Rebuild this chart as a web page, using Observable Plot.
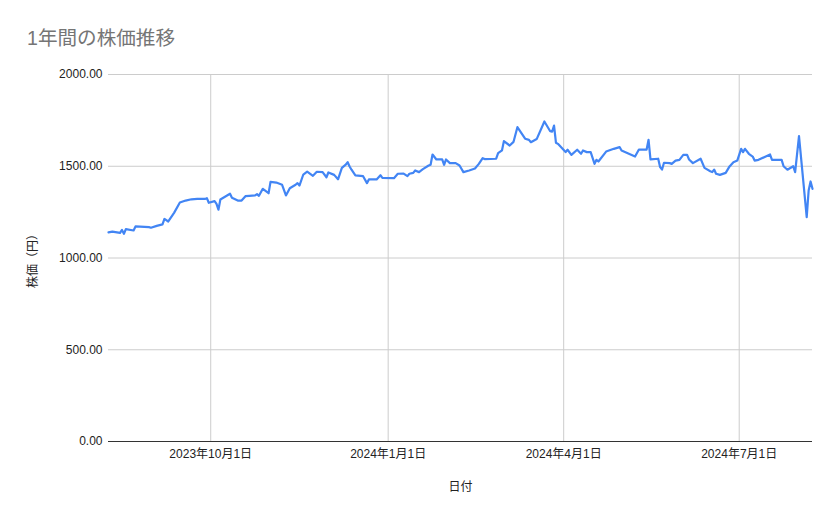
<!DOCTYPE html>
<html><head><meta charset="utf-8">
<script src="https://cdn.jsdelivr.net/npm/d3@7"></script>
<script src="https://cdn.jsdelivr.net/npm/@observablehq/plot@0.6"></script>
<style>
body{margin:0;background:#fff;}
#wrap{position:relative;width:839px;height:519px;}
#title{position:absolute;left:27px;top:28px;font-size:19.6px;line-height:20px;font-family:"Liberation Sans",Arial,"Noto Sans CJK JP",sans-serif;color:#757575;}
</style></head><body>
<div id="wrap"><div id="title">1年間の株価推移</div></div>
<script>
const dates = [
"2023-08-09","2023-08-11","2023-08-15","2023-08-16","2023-08-17","2023-08-18","2023-08-22","2023-08-23","2023-08-30","2023-08-31",
"2023-09-03","2023-09-06","2023-09-07","2023-09-09","2023-09-12","2023-09-15","2023-09-18","2023-09-21","2023-09-24","2023-09-28",
"2023-09-29","2023-09-30","2023-10-03","2023-10-04","2023-10-05","2023-10-06","2023-10-11","2023-10-12","2023-10-15","2023-10-17",
"2023-10-19","2023-10-21","2023-10-24","2023-10-25","2023-10-26","2023-10-28","2023-10-31","2023-11-01","2023-11-04","2023-11-07",
"2023-11-09","2023-11-11","2023-11-14","2023-11-15","2023-11-16","2023-11-18","2023-11-20","2023-11-23","2023-11-25","2023-11-28",
"2023-11-30","2023-12-01","2023-12-04","2023-12-06","2023-12-08","2023-12-10","2023-12-11","2023-12-12","2023-12-13","2023-12-15",
"2023-12-19","2023-12-21","2023-12-22","2023-12-26","2023-12-28","2023-12-29","2024-01-04","2024-01-06","2024-01-09","2024-01-11",
"2024-01-12","2024-01-14","2024-01-15","2024-01-17","2024-01-19","2024-01-22","2024-01-23","2024-01-24","2024-01-26","2024-01-29",
"2024-01-30","2024-01-31","2024-02-02","2024-02-05","2024-02-07","2024-02-09","2024-02-12","2024-02-15","2024-02-17","2024-02-19",
"2024-02-20","2024-02-26","2024-02-27","2024-02-29","2024-03-01","2024-03-04","2024-03-06","2024-03-08","2024-03-12","2024-03-14",
"2024-03-15","2024-03-18","2024-03-22","2024-03-25","2024-03-26","2024-03-27","2024-03-28","2024-03-29","2024-04-02","2024-04-03",
"2024-04-05","2024-04-08","2024-04-10","2024-04-11","2024-04-13","2024-04-15","2024-04-17","2024-04-18","2024-04-19","2024-04-23",
"2024-04-27","2024-04-30","2024-05-01","2024-05-08","2024-05-10","2024-05-14","2024-05-15","2024-05-16","2024-05-20","2024-05-21",
"2024-05-22","2024-05-23","2024-05-26","2024-05-27","2024-05-29","2024-05-31","2024-06-02","2024-06-04","2024-06-05","2024-06-07",
"2024-06-11","2024-06-13","2024-06-16","2024-06-17","2024-06-18","2024-06-19","2024-06-21","2024-06-24","2024-06-26","2024-06-28",
"2024-06-30","2024-07-02","2024-07-03","2024-07-04","2024-07-06","2024-07-08","2024-07-09","2024-07-11","2024-07-17","2024-07-18",
"2024-07-23","2024-07-24","2024-07-26","2024-07-29","2024-07-30","2024-08-01","2024-08-05","2024-08-06","2024-08-07","2024-08-08"
];
const prices = [
1140,1144,1137,1153,1132,1157,1150,1172,1168,1165,
1175,1183,1213,1199,1246,1302,1313,1320,1322,1322,
1326,1301,1310,1295,1263,1319,1350,1328,1313,1313,
1337,1339,1341,1348,1339,1377,1353,1415,1411,1399,
1341,1380,1399,1408,1395,1455,1471,1448,1470,1468,
1440,1466,1453,1429,1491,1509,1522,1499,1481,1450,
1446,1408,1428,1428,1451,1437,1435,1459,1460,1446,
1459,1464,1477,1468,1484,1504,1508,1564,1537,1537,
1508,1537,1517,1517,1504,1468,1477,1488,1513,1544,
1539,1541,1571,1586,1637,1613,1633,1713,1650,1644,
1631,1648,1744,1691,1689,1722,1628,1622,1577,1590,
1562,1590,1568,1586,1577,1577,1513,1535,1526,1580,
1595,1604,1586,1553,1591,1591,1644,1537,1541,1495,
1482,1519,1517,1513,1531,1535,1562,1562,1537,1517,
1541,1491,1473,1468,1482,1459,1453,1464,1499,1522,
1531,1595,1577,1595,1568,1553,1531,1535,1564,1535,
1535,1500,1481,1500,1468,1664,1223,1368,1417,1377
];
const yTicks = [0, 500, 1000, 1500, 2000];
const xTickDates = ["2023-10-01", "2024-01-01", "2024-04-01", "2024-07-01"];
const xDomain = ["2023-08-09", "2024-08-08"];

const data = dates.map((d, i) => ({date: new Date(d), price: prices[i]}));
const xTicks = xTickDates.map(d => new Date(d));
const fmtDate = d => `${d.getUTCFullYear()}年${d.getUTCMonth() + 1}月${d.getUTCDate()}日`;
const font = '"Liberation Sans", Arial, "Noto Sans CJK JP", sans-serif';

const chart = Plot.plot({
  width: 839, height: 519,
  marginLeft: 108, marginRight: 27, marginTop: 74, marginBottom: 78,
  style: {fontFamily: font, fontSize: "12px", color: "#222", background: "#fff"},
  x: {type: "utc", domain: xDomain.map(d => new Date(d))},
  y: {domain: [0, 2000]},
  marks: [
    Plot.gridY(yTicks, {stroke: "#cccccc", strokeOpacity: 1}),
    Plot.gridX(xTicks, {stroke: "#cccccc", strokeOpacity: 1}),
    Plot.ruleY([0], {stroke: "#333"}),
    Plot.line(data, {x: "date", y: "price", stroke: "#4285F4", strokeWidth: 2.2}),
    Plot.axisY(yTicks, {tickSize: 0, tickPadding: 6, tickFormat: d3.format(".2f"),
      label: "株価（円）", labelAnchor: "center", labelArrow: "none", labelOffset: 80, fill: "#222"}),
    Plot.axisX(xTicks, {tickSize: 0, tickPadding: 8, tickFormat: fmtDate,
      label: "日付", labelAnchor: "center", labelArrow: "none", labelOffset: 49, fill: "#222"})
  ]
});
document.getElementById("wrap").appendChild(chart);
</script>
</body></html>
